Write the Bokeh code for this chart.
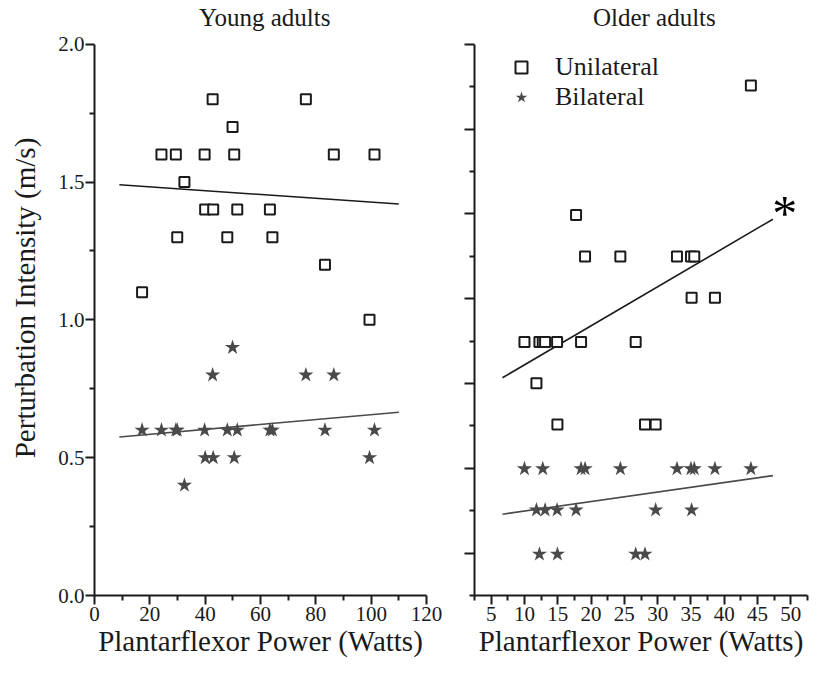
from bokeh.plotting import figure
from bokeh.models import FixedTicker, Range1d, Legend, LegendItem, Label, PrintfTickFormatter
from bokeh.layouts import row
from bokeh.embed import file_html
from bokeh.resources import INLINE

# ---------------- data ----------------
young_power = [17.2, 24.2, 29.4, 29.9, 32.5, 39.8, 40.0, 42.7, 42.9, 48.0,
               49.9, 50.5, 51.6, 63.4, 64.3, 76.4, 83.3, 86.5, 99.4, 101.2]
young_unilateral = [1.1, 1.6, 1.6, 1.3, 1.5, 1.6, 1.4, 1.8, 1.4, 1.3,
                    1.7, 1.6, 1.4, 1.4, 1.3, 1.8, 1.2, 1.6, 1.0, 1.6]
young_bilateral = [0.6, 0.6, 0.6, 0.6, 0.4, 0.6, 0.5, 0.8, 0.5, 0.6,
                   0.9, 0.5, 0.6, 0.6, 0.6, 0.8, 0.6, 0.8, 0.5, 0.6]
young_fit_x = [9.0, 110.0]
young_fit_unilateral = [1.49, 1.42]
young_fit_bilateral = [0.575, 0.665]

older_power = [10.0, 11.8, 12.25, 12.75, 13.1, 14.9, 14.95, 17.75, 18.5, 19.1,
               24.4, 26.7, 28.1, 29.7, 32.9, 35.0, 35.1, 35.5, 38.6, 44.0]
older_unilateral = [0.92, 0.77, 0.92, 0.92, 0.92, 0.92, 0.62, 1.38, 0.92, 1.23,
                    1.23, 0.92, 0.62, 0.62, 1.23, 1.23, 1.08, 1.23, 1.08, 1.85]
older_bilateral = [0.46, 0.31, 0.15, 0.46, 0.31, 0.31, 0.15, 0.31, 0.46, 0.46,
                   0.46, 0.15, 0.15, 0.31, 0.46, 0.46, 0.31, 0.46, 0.46, 0.46]
older_fit_x = [6.7, 47.3]
older_fit_unilateral = [0.79, 1.365]
older_fit_bilateral = [0.295, 0.435]

young_x_ticks = [0, 20, 40, 60, 80, 100, 120]
young_x_minor = [10, 30, 50, 70, 90, 110]
young_y_ticks = [0.0, 0.5, 1.0, 1.5, 2.0]
young_y_minor = [0.25, 0.75, 1.25, 1.75]
older_x_ticks = [5, 10, 15, 20, 25, 30, 35, 40, 45, 50]
older_x_minor = [2.5, 7.5, 12.5, 17.5, 22.5, 27.5, 32.5, 37.5, 42.5, 47.5, 52.5]
older_step = 2.0 / 13
older_y_ticks = [k * older_step for k in range(1, 14, 2)]
older_y_minor = [k * older_step for k in range(0, 13, 2)]

titles = ["Young adults", "Older adults"]
x_label = "Plantarflexor Power (Watts)"
y_label = "Perturbation Intensity (m/s)"
legend_labels = ["Unilateral", "Bilateral"]

FONT = "Liberation Serif"
INK = "#1a1a1a"
STAR = "#4a4a4a"
Y_TOP = 2.1585  # frame extends above the axis (axis bounded to 0..2) to hold the titles


def style(p, xlabel):
    p.grid.visible = False
    p.outline_line_color = None
    p.background_fill_color = "white"
    p.border_fill_color = "white"
    for ax in (p.xaxis[0], p.yaxis[0]):
        ax.axis_line_width = 2
        ax.axis_line_color = INK
        ax.major_tick_line_width = 2
        ax.minor_tick_line_width = 2
        ax.major_tick_line_color = INK
        ax.minor_tick_line_color = INK
        ax.major_tick_in = 0
        ax.minor_tick_in = 0
        ax.major_tick_out = 9
        ax.minor_tick_out = 5
        ax.major_label_text_font = FONT
        ax.major_label_text_font_size = "21px"
        ax.major_label_text_color = INK
        ax.axis_label_text_font = FONT
        ax.axis_label_text_font_size = "29px"
        ax.axis_label_text_font_style = "normal"
        ax.axis_label_text_color = INK
    p.yaxis[0].bounds = (0, 2)
    p.xaxis[0].axis_label = xlabel
    p.xaxis[0].major_label_standoff = 2
    p.xaxis[0].axis_label_standoff = 1


def add_title(p, text, x):
    p.add_layout(Label(x=x, y=2.097, text=text, text_font=FONT, text_font_size="25px",
                       text_align="center", text_baseline="alphabetic", text_color=INK))


# ---------------- left panel ----------------
p1 = figure(width=450, height=676, x_range=Range1d(0, 120), y_range=Range1d(0, Y_TOP),
            output_backend="svg", toolbar_location=None,
            min_border_left=94, min_border_right=24, min_border_top=0, min_border_bottom=81)
style(p1, x_label)
p1.xaxis[0].ticker = FixedTicker(ticks=young_x_ticks, minor_ticks=young_x_minor)
p1.yaxis[0].ticker = FixedTicker(ticks=young_y_ticks, minor_ticks=young_y_minor)
p1.yaxis[0].formatter = PrintfTickFormatter(format="%.1f")
p1.yaxis[0].axis_label = y_label
p1.yaxis[0].major_label_standoff = 1
p1.yaxis[0].axis_label_standoff = 14
add_title(p1, titles[0], 61.5)

p1.line(young_fit_x, young_fit_unilateral, line_color=INK, line_width=1.6)
p1.line(young_fit_x, young_fit_bilateral, line_color=STAR, line_width=1.6)
p1.scatter(young_power, young_unilateral, marker="square", size=10, fill_color="white",
           line_color=INK, line_width=2)
p1.scatter(young_power, young_bilateral, marker="star", size=16, fill_color=STAR,
           line_color=None)

# ---------------- right panel ----------------
p2 = figure(width=378, height=676, x_range=Range1d(2.5, 52.5), y_range=Range1d(0, Y_TOP),
            output_backend="svg", toolbar_location=None,
            min_border_left=24, min_border_right=21, min_border_top=0, min_border_bottom=81)
style(p2, x_label)
p2.xaxis[0].ticker = FixedTicker(ticks=older_x_ticks, minor_ticks=older_x_minor)
p2.yaxis[0].ticker = FixedTicker(ticks=older_y_ticks, minor_ticks=older_y_minor)
p2.yaxis[0].major_label_overrides = {t: "" for t in older_y_ticks}
p2.yaxis[0].major_tick_out = 10
add_title(p2, titles[1], 29.5)

p2.line(older_fit_x, older_fit_unilateral, line_color=INK, line_width=1.6)
p2.line(older_fit_x, older_fit_bilateral, line_color=STAR, line_width=1.6)
r_uni = p2.scatter(older_power, older_unilateral, marker="square", size=10, fill_color="white",
                   line_color=INK, line_width=2)
r_bi = p2.scatter(older_power, older_bilateral, marker="star", size=16, fill_color=STAR,
                  line_color=None)

legend = Legend(items=[LegendItem(label=legend_labels[0], renderers=[r_uni]),
                       LegendItem(label=legend_labels[1], renderers=[r_bi])],
                location=(32, 483), padding=0, margin=0, spacing=0,
                glyph_width=30, glyph_height=30, label_height=30, label_standoff=19,
                label_text_font=FONT, label_text_font_size="26px", label_text_color=INK,
                border_line_color=None, background_fill_alpha=0)
p2.add_layout(legend)

p2.add_layout(Label(x=49.1, y=1.386, text="*", text_font=FONT, text_font_size="50px",
                    text_align="center", text_baseline="middle", text_color="black"))

layout = row(p1, p2)
open("out.html", "w").write(file_html(layout, INLINE))
